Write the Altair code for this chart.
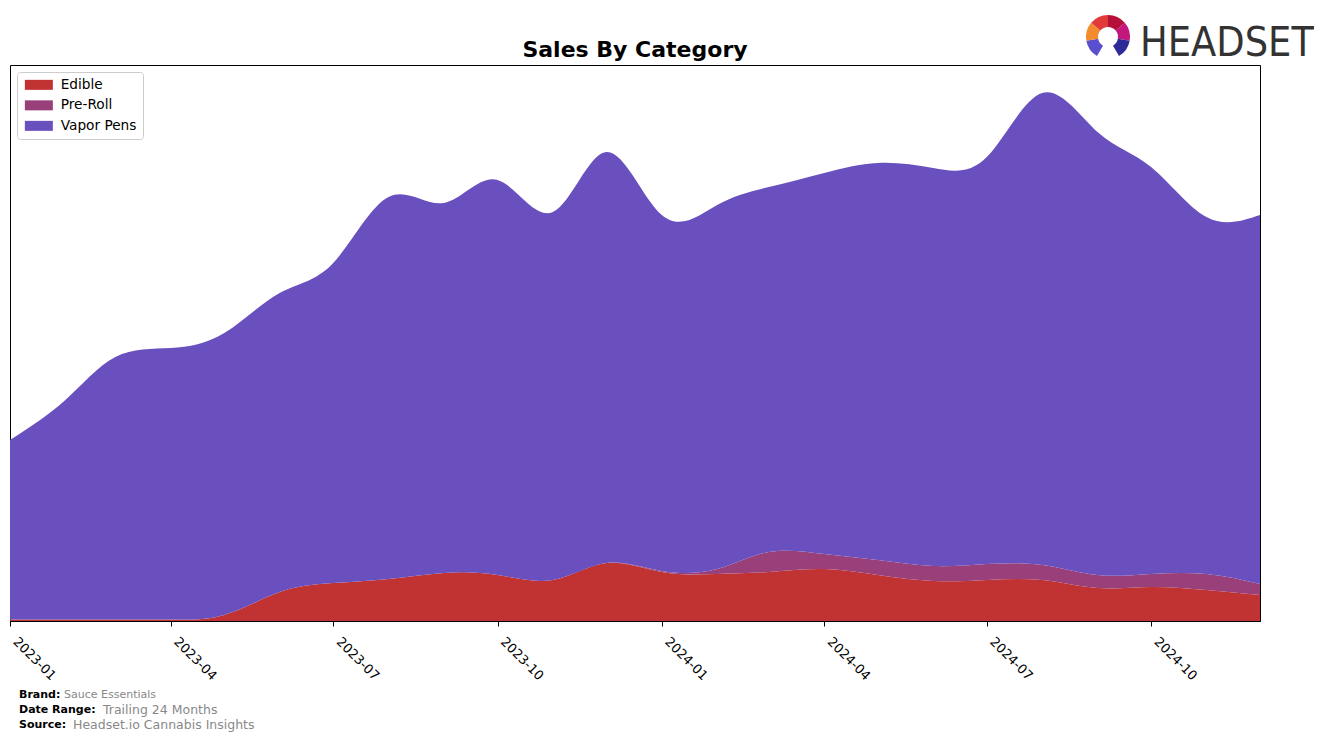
import math
import altair as alt
import pandas as pd

months = [
    "2023-01-01T00:00:00", "2023-02-01T00:00:00", "2023-03-01T00:00:00", "2023-04-01T00:00:00",
    "2023-05-01T00:00:00", "2023-06-01T00:00:00", "2023-07-01T00:00:00", "2023-08-01T00:00:00",
    "2023-09-01T00:00:00", "2023-10-01T00:00:00", "2023-11-01T00:00:00", "2023-12-01T00:00:00",
    "2024-01-01T00:00:00", "2024-02-01T00:00:00", "2024-03-01T00:00:00", "2024-04-01T00:00:00",
    "2024-05-01T00:00:00", "2024-06-01T00:00:00", "2024-07-01T00:00:00", "2024-08-01T00:00:00",
    "2024-09-01T00:00:00", "2024-10-01T00:00:00", "2024-11-01T00:00:00", "2024-12-01T00:00:00",
]
edible = [1.5, 1.5, 1.5, 1.5, 6, 29, 38, 42, 48, 46, 41, 58,
          49, 47, 49, 52, 46, 40, 41, 41, 33, 34, 31, 26]
preroll = [0, 0, 0, 0, 0, 0, 0, 0, 0, 0, 0, 0,
           1, 5, 20, 15, 15, 15, 16, 15, 13, 13, 16, 11]
vapor = [179.5, 219.5, 262.5, 271.5, 282, 299, 320, 382, 370, 395, 368, 411,
         356, 364, 365, 381, 397, 398, 407, 472, 443, 407, 357, 369]

categories = ["Edible", "Pre-Roll", "Vapor Pens"]
colors = ["#c13232", "#99407a", "#6a4fbe"]
tick_dates = ["2023-01", "2023-04", "2023-07", "2023-10", "2024-01", "2024-04", "2024-07", "2024-10"]

rows = []
for i, m in enumerate(months):
    for k, (cat, vals) in enumerate(zip(categories, [edible, preroll, vapor])):
        rows.append({"month": m, "category": cat, "sales": vals[i], "ord": k})
df = pd.DataFrame(rows)

tick_vals = [alt.DateTime(year=int(t[:4]), month=int(t[5:]), date=1) for t in tick_dates]

area = alt.Chart(df).mark_area(interpolate="natural", clip=True).encode(
    x=alt.X(
        "month:T",
        title=None,
        scale=alt.Scale(domain=[alt.DateTime(year=2023, month=1, date=1),
                                alt.DateTime(year=2024, month=12, date=1)], nice=False),
        axis=alt.Axis(values=tick_vals, format="%Y-%m", labelAngle=45, labelAlign="left",
                      labelBaseline="top", tickSize=5, labelPadding=9, labelOffset=9,
                      grid=False, labelOverlap=False, labelFlush=False, domainColor="black",
                      tickColor="black", labelColor="black", labelFont="DejaVu Sans",
                      labelFontSize=13),
    ),
    y=alt.Y("sales:Q", stack="zero", axis=None,
            scale=alt.Scale(domain=[0, 556], nice=False, zero=True)),
    color=alt.Color(
        "category:N",
        scale=alt.Scale(domain=categories, range=colors),
        legend=alt.Legend(
            title=None, orient="none", legendX=7, legendY=7,
            fillColor="white", strokeColor="#cccccc", cornerRadius=3, padding=6,
            labelFont="DejaVu Sans", labelFontSize=13.7, labelColor="black", labelOffset=15,
            symbolType="M-2.8,-1L2.8,-1L2.8,1L-2.8,1Z", symbolSize=100, symbolOffset=9,
            symbolStrokeWidth=0, symbolOpacity=1, rowPadding=5.5,
        ),
    ),
    order=alt.Order("ord:Q", sort="ascending"),
)

one = pd.DataFrame({"a": [0]})


def txt(text, x, y, size, weight="normal", color="black", font="DejaVu Sans",
        align="left", baseline="middle"):
    return alt.Chart(one).mark_text(
        text=text, align=align, baseline=baseline, font=font,
        fontSize=size, fontWeight=weight, color=color,
    ).encode(x=alt.value(x), y=alt.value(y))


title = txt("Sales By Category", 625, -8, 22, "bold", align="center", baseline="alphabetic")

footer = [
    txt("Brand:", 9, 630, 11, "bold"),
    txt("Sauce Essentials", 54, 630, 11, color="#888888"),
    txt("Date Range:", 9, 645, 11, "bold"),
    txt("Trailing 24 Months", 93, 645, 12.5, color="#888888"),
    txt("Source:", 9, 660, 11, "bold"),
    txt("Headset.io Cannabis Insights", 63, 660, 12.5, color="#888888"),
]

logo_text = txt("HEADSET", 1130, -9, 41, color="#333333",
                font="Liberation Sans Narrow, DejaVu Sans Condensed, Liberation Sans",
                baseline="alphabetic")

seg_angles = [210, 260, 310, 360, 410, 460, 510]
seg_colors = ["#5a4fcf", "#f28a2e", "#e23a3a", "#b5103a", "#c2187e", "#2e2a96"]
logo_arcs = []
for j, c in enumerate(seg_colors):
    logo_arcs.append(
        alt.Chart(one).mark_arc(
            theta=math.radians(seg_angles[j]), theta2=math.radians(seg_angles[j + 1]),
            radius=22, radius2=10, color=c,
        ).encode(x=alt.value(1098), y=alt.value(-28))
    )

chart = alt.layer(area, title, *footer, logo_text, *logo_arcs).properties(
    width=1250, height=556,
    autosize=alt.AutoSizeParams(type="none"),
    padding={"left": 2, "top": 57, "right": 54, "bottom": 112},
).configure_view(stroke="black", strokeWidth=1)

chart.save("out.html", embed_options={"renderer": "svg", "actions": False})
